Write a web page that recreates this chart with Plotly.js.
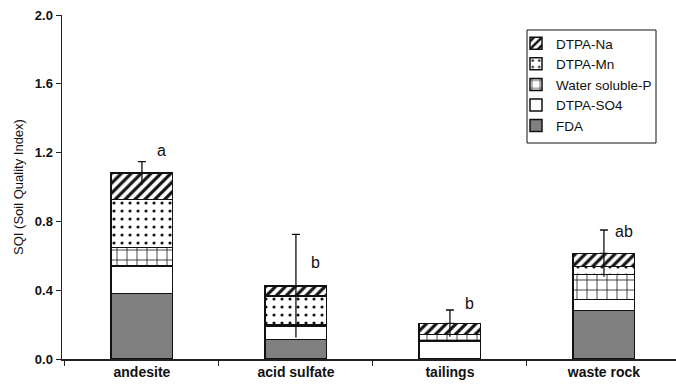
<!DOCTYPE html>
<html>
<head>
<meta charset="utf-8">
<script src="https://cdn.plot.ly/plotly-3.0.1.min.js"></script>
<style>html,body{margin:0;padding:0;background:#fff;}#chart{width:676px;height:391px;}</style>
</head>
<body>
<div id="chart"></div>
<script>
var categories = ["andesite", "acid sulfate", "tailings", "waste rock"];
var fda      = [0.382, 0.114, 0.000, 0.281];
var so4      = [0.160, 0.078, 0.105, 0.066];
var waterP   = [0.107, 0.005, 0.038, 0.145];
var mn       = [0.279, 0.170, 0.000, 0.045];
var na       = [0.152, 0.058, 0.064, 0.077];
var errSQI   = [0.067, 0.300, 0.078, 0.136];
var letters  = ["a", "b", "b", "ab"];
var letterY  = [1.215, 0.56, 0.325, 0.74];

var totals = categories.map(function(_, i){ return fda[i] + so4[i] + waterP[i] + mn[i] + na[i]; });

var outline = {color: "#111", width: 1.5};
function barTrace(name, vals, color, pattern) {
  var m = {color: color, line: outline};
  if (pattern) m.pattern = pattern;
  return {type: "bar", name: name, x: categories, y: vals, width: 0.4, marker: m};
}
var traces = [
  barTrace("FDA", fda, "#808080"),
  barTrace("DTPA-SO4", so4, "#ffffff"),
  barTrace("Water soluble-P", waterP, "#ffffff", {shape: "+", fgcolor: "#111", bgcolor: "#ffffff", size: 10, solidity: 0.15, fillmode: "replace"}),
  barTrace("DTPA-Mn", mn, "#ffffff", {shape: ".", fgcolor: "#111", bgcolor: "#ffffff", size: 8, solidity: 0.12, fillmode: "replace"}),
  barTrace("DTPA-Na", na, "#ffffff", {shape: "/", fgcolor: "#111", bgcolor: "#ffffff", size: 7, solidity: 0.45, fillmode: "replace"}),
  {type: "scatter", mode: "markers", x: categories, y: totals, showlegend: false, hoverinfo: "skip",
   marker: {size: 1, opacity: 0},
   error_y: {type: "data", array: errSQI, arrayminus: categories.map(function(){return 0;}), color: "#111", thickness: 1.3, width: 4}},
  {type: "scatter", mode: "markers", x: categories, y: totals, showlegend: false, hoverinfo: "skip",
   marker: {size: 1, opacity: 0},
   error_y: {type: "data", array: categories.map(function(){return 0;}), arrayminus: errSQI, color: "#111", thickness: 1.3, width: 0}}
];

var annotations = categories.map(function(c, i){
  return {x: c, y: letterY[i], xref: "x", yref: "y", text: letters[i], showarrow: false,
          xshift: 20, font: {family: "Arial, Liberation Sans, sans-serif", size: 16, color: "#111"}};
});

var layout = {
  width: 676, height: 391,
  margin: {l: 62, r: 0, t: 15, b: 32, pad: 0},
  paper_bgcolor: "#fff", plot_bgcolor: "#fff",
  barmode: "stack",
  font: {family: "Arial, Liberation Sans, sans-serif", color: "#111"},
  showlegend: true,
  legend: {x: (516 - 62) / 614, y: (359 - 28) / 344, xanchor: "left", yanchor: "top", traceorder: "reversed",
           bordercolor: "rgba(0,0,0,0)", borderwidth: 0, bgcolor: "rgba(0,0,0,0)",
           font: {size: 13.5, color: "#111"}, itemwidth: 30, tracegroupgap: 0},
  shapes: [{type: "rect", xref: "paper", yref: "paper",
            x0: (527 - 62) / 614, x1: (656 - 62) / 614, y0: (359 - 143) / 344, y1: (359 - 30) / 344,
            line: {color: "#111", width: 1}, fillcolor: "rgba(0,0,0,0)", layer: "below"}],
  xaxis: {type: "category", range: [-0.519, 3.468], showline: true, linecolor: "#222", linewidth: 1.5,
          ticks: "outside", ticklen: 5, tickcolor: "#222", tickson: "boundaries",
          tickfont: {size: 14, color: "#111", weight: "bold"}, showgrid: false, zeroline: false, fixedrange: true},
  yaxis: {range: [0, 2.0], tickvals: [0, 0.4, 0.8, 1.2, 1.6, 2.0], tickformat: ".1f",
          showline: true, linecolor: "#222", linewidth: 1.5, ticks: "outside", ticklen: 5, tickcolor: "#222",
          tickfont: {size: 13, color: "#111", weight: "bold"}, showgrid: false, zeroline: false,
          title: {text: "SQI (Soil Quality Index)", font: {size: 13, color: "#111"}, standoff: 8}},
  annotations: annotations
};

Plotly.newPlot("chart", traces, layout, {displayModeBar: false, staticPlot: true});
</script>
</body>
</html>
